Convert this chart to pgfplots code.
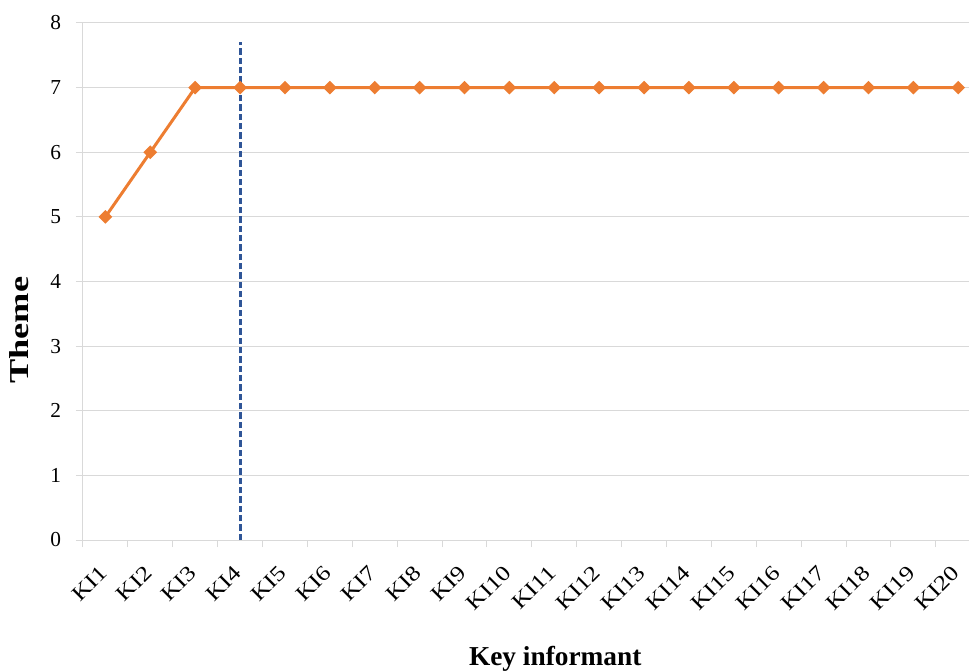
\documentclass[border=0pt]{standalone}
\usepackage{fontspec}
\setmainfont{Liberation Serif}
\usepackage{graphicx}
\usepackage{pgfplots}
\pgfplotsset{compat=1.18}
\usetikzlibrary{calc}
\definecolor{kiorange}{HTML}{ED7D31}
\definecolor{kiblue}{HTML}{2F5597}
\definecolor{kigrid}{HTML}{D9D9D9}
% rotated labels in the reference are drawn wider along their baseline
\newcommand{\kl}[1]{\scalebox{1.2}[1]{KI#1}}

\begin{document}
\begin{tikzpicture}
\begin{axis}[
    name=ax,
    scale only axis,
    width=664.5pt, height=387.75pt,
    xmin=-0.5, xmax=19.24,
    ymin=0, ymax=8,
    axis x line*=bottom, axis y line*=left,
    every outer x axis line/.append style={-, kigrid, line width=0.75pt},
    every outer y axis line/.append style={-, kigrid, line width=0.75pt},
    ytick={0,...,8},
    ymajorgrids,
    grid style={kigrid, line width=0.75pt},
    xtick={0,...,19},
    xticklabels={\kl{1},\kl{2},\kl{3},\kl{4},\kl{5},\kl{6},\kl{7},\kl{8},\kl{9},\kl{10},
                 \kl{11},\kl{12},\kl{13},\kl{14},\kl{15},\kl{16},\kl{17},\kl{18},\kl{19},\kl{20}},
    minor xtick={-0.5,0.5,...,19.5},
    tick align=outside,
    major tick length=5.25pt, minor tick length=5.25pt,
    major x tick style={draw=none},
    tick style={kigrid, line width=0.75pt},
    /pgf/number format/assume math mode=true,
    tick label style={font=\fontsize{16}{19}\selectfont},
    yticklabel style={anchor=east, inner sep=0pt, xshift=-11pt},
    xticklabel style={inner sep=0pt, xshift=-1.5pt, yshift=-16.5pt, rotate=45, anchor=east},
    xlabel={Key informant},
    xlabel style={at={(axis description cs:0.533,-0.2437)}, anchor=base,
                  font=\bfseries\fontsize{20.5}{24}\selectfont},
    ylabel={\scalebox{1.33}[1]{Theme}},
    ylabel style={at={(axis description cs:-0.062,0.406)}, anchor=base, rotate=0,
                  font=\bfseries\fontsize{20.5}{24}\selectfont},
]
\addplot[kiorange, line width=2.25pt, mark=square*, mark size=2.5pt,
         mark options={rotate=45, solid}] coordinates {
    (0,5) (1,6) (2,7) (3,7) (4,7) (5,7) (6,7) (7,7) (8,7) (9,7)
    (10,7) (11,7) (12,7) (13,7) (14,7) (15,7) (16,7) (17,7) (18,7) (19,7)
};
\addplot[kiblue, line width=2.25pt, dash pattern=on 4.8pt off 2.2pt] coordinates {
    (3,0) (3,7.71)
};
\end{axis}
\pgfresetboundingbox
\path[use as bounding box] ($(ax.south west)+(-62.25pt,-97.5pt)$) rectangle ($(ax.north east)+(0pt,17.25pt)$);
\end{tikzpicture}
\end{document}
